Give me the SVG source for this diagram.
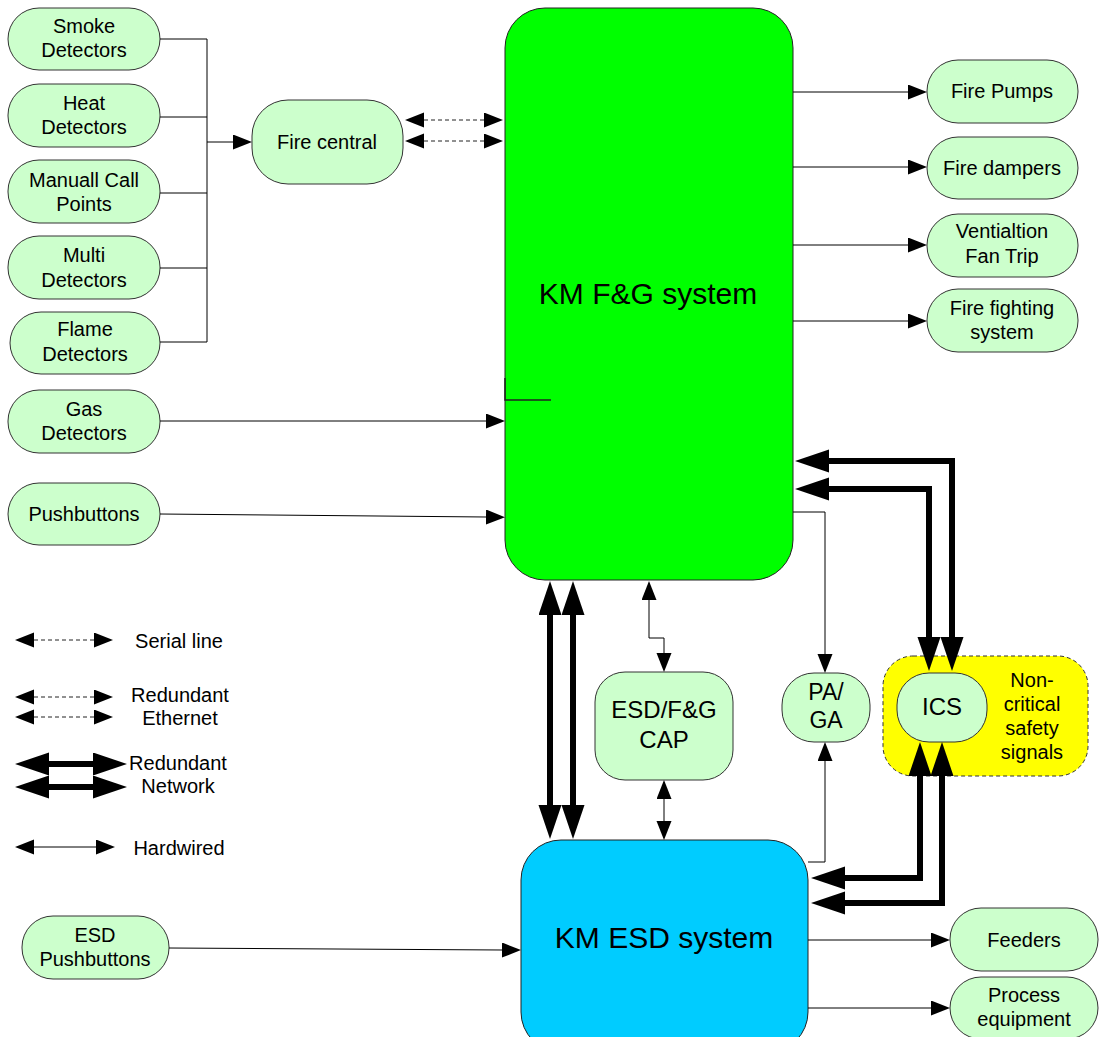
<svg xmlns="http://www.w3.org/2000/svg" width="1099" height="1037" viewBox="0 0 1099 1037">
<style>
.t{font-family:"Liberation Sans",Arial,sans-serif;font-size:20px;text-anchor:middle;fill:#000}
.pill{fill:#ccffcc;stroke:#333;stroke-width:1}
.w{fill:none;stroke:#000;stroke-width:1}
.d{fill:none;stroke:#222;stroke-width:1;stroke-dasharray:4,3}
.n{fill:none;stroke:#000;stroke-width:6;stroke-linejoin:miter}
</style>
<defs>
<marker id="s" markerUnits="userSpaceOnUse" markerWidth="20" markerHeight="16" refX="0" refY="7.5" orient="auto-start-reverse"><path d="M0,0 L19,7.5 L0,15 z" fill="#000"/></marker>
<marker id="b" markerUnits="userSpaceOnUse" markerWidth="35" markerHeight="24" refX="0" refY="11.5" orient="auto-start-reverse"><path d="M0,0 L34,11.5 L0,23 z" fill="#000"/></marker>
</defs>
<rect width="1099" height="1037" fill="#fff"/>

<g id="fg-system"><rect x="505" y="8" width="288" height="572" rx="40" fill="#00ff00" stroke="#222"/><text class="t" x="648" y="304" style="font-size:30px">KM F&amp;G system</text></g>
<g id="esd-system"><rect x="521" y="840" width="287" height="212" rx="40" fill="#00ccff" stroke="#222"/><text class="t" x="664" y="948" style="font-size:30px">KM ESD system</text></g>

<g id="smoke"><rect class="pill" x="8" y="8" width="152" height="62" rx="31"/><text class="t" x="84" y="33">Smoke</text><text class="t" x="84" y="57">Detectors</text></g>
<g id="heat"><rect class="pill" x="8" y="84" width="152" height="63" rx="31"/><text class="t" x="84" y="110">Heat</text><text class="t" x="84" y="134">Detectors</text></g>
<g id="manual"><rect class="pill" x="8" y="160" width="152" height="63" rx="31"/><text class="t" x="84" y="187">Manuall Call</text><text class="t" x="84" y="211">Points</text></g>
<g id="multi"><rect class="pill" x="8" y="236" width="152" height="63" rx="31"/><text class="t" x="84" y="262">Multi</text><text class="t" x="84" y="287">Detectors</text></g>
<g id="flame"><rect class="pill" x="10" y="312" width="150" height="62" rx="31"/><text class="t" x="85" y="336">Flame</text><text class="t" x="85" y="361">Detectors</text></g>
<g id="gas"><rect class="pill" x="8" y="390" width="152" height="63" rx="31"/><text class="t" x="84" y="416">Gas</text><text class="t" x="84" y="440">Detectors</text></g>
<g id="pushbuttons"><rect class="pill" x="8" y="483" width="152" height="62" rx="31"/><text class="t" x="84" y="521">Pushbuttons</text></g>
<g id="fire-central"><rect class="pill" x="252" y="100" width="151" height="84" rx="36"/><text class="t" x="327" y="149">Fire central</text></g>

<g id="fire-pumps"><rect class="pill" x="927" y="60" width="151" height="63" rx="31"/><text class="t" x="1002" y="98">Fire Pumps</text></g>
<g id="fire-dampers"><rect class="pill" x="927" y="137" width="151" height="62" rx="31"/><text class="t" x="1002" y="175">Fire dampers</text></g>
<g id="ventilation"><rect class="pill" x="927" y="214" width="151" height="63" rx="31"/><text class="t" x="1002" y="238">Ventialtion</text><text class="t" x="1002" y="263">Fan Trip</text></g>
<g id="fire-fighting"><rect class="pill" x="927" y="289" width="151" height="63" rx="31"/><text class="t" x="1002" y="315">Fire fighting</text><text class="t" x="1002" y="339">system</text></g>

<g id="non-critical"><rect x="883" y="656" width="205" height="120" rx="30" fill="#ffff00" stroke="#333" stroke-dasharray="4,3"/><text class="t" x="1032" y="687">Non-</text><text class="t" x="1032" y="711">critical</text><text class="t" x="1032" y="735">safety</text><text class="t" x="1032" y="759">signals</text></g>
<g id="ics"><rect class="pill" x="897" y="673" width="90" height="69" rx="32"/><text class="t" x="942" y="715" style="font-size:24px">ICS</text></g>
<g id="pa-ga"><rect class="pill" x="782" y="673" width="88" height="69" rx="32"/><text class="t" x="826" y="700" style="font-size:23px">PA/</text><text class="t" x="826" y="728" style="font-size:23px">GA</text></g>
<g id="cap"><rect class="pill" x="595" y="672" width="138" height="108" rx="30"/><text class="t" x="664" y="718" style="font-size:24px">ESD/F&amp;G</text><text class="t" x="664" y="748" style="font-size:24px">CAP</text></g>

<g id="esd-pushbuttons"><rect class="pill" x="22" y="916" width="147" height="63" rx="31"/><text class="t" x="95" y="942">ESD</text><text class="t" x="95" y="966">Pushbuttons</text></g>
<g id="feeders"><rect class="pill" x="950" y="908" width="148" height="63" rx="31"/><text class="t" x="1024" y="947">Feeders</text></g>
<g id="process"><rect class="pill" x="950" y="977" width="148" height="62" rx="31"/><text class="t" x="1024" y="1002">Process</text><text class="t" x="1024" y="1026">equipment</text></g>

<g id="connectors">
<path class="w" d="M160,39 H207 M160,117 H207 M160,193 H207 M160,268 H207 M160,342 H207 M207,39 V342"/>
<path class="w" d="M207,142 H233" marker-end="url(#s)"/>
<path class="d" d="M424,120 H484" marker-start="url(#s)" marker-end="url(#s)"/>
<path class="d" d="M424,141 H484" marker-start="url(#s)" marker-end="url(#s)"/>
<path class="w" d="M793,92 H908" marker-end="url(#s)"/>
<path class="w" d="M793,167 H908" marker-end="url(#s)"/>
<path class="w" d="M793,245 H908" marker-end="url(#s)"/>
<path class="w" d="M793,321 H908" marker-end="url(#s)"/>
<path class="w" d="M160,421 L486,421" marker-end="url(#s)"/>
<path class="w" d="M160,514 L486,517" marker-end="url(#s)"/>
<path d="M505,378 V400 H551" fill="none" stroke="#222" stroke-width="1.5"/>
<path class="n" d="M829,461 H952 V637" marker-start="url(#b)" marker-end="url(#b)"/>
<path class="n" d="M829,489 H929 V637" marker-start="url(#b)" marker-end="url(#b)"/>
<path class="n" d="M920,776 V878 H845" marker-start="url(#b)" marker-end="url(#b)"/>
<path class="n" d="M942,776 V903 H845" marker-start="url(#b)" marker-end="url(#b)"/>
<path class="n" d="M550,615 V805" marker-start="url(#b)" marker-end="url(#b)"/>
<path class="n" d="M573,615 V805" marker-start="url(#b)" marker-end="url(#b)"/>
<path class="w" d="M649,600 V638 H664 V653" marker-start="url(#s)" marker-end="url(#s)"/>
<path class="w" d="M664,799 V821" marker-start="url(#s)" marker-end="url(#s)"/>
<path class="w" d="M793,512 H825 V654" marker-end="url(#s)"/>
<path class="w" d="M808,862 H825 V761" marker-end="url(#s)"/>
<path class="w" d="M808,940 H931" marker-end="url(#s)"/>
<path class="w" d="M808,1008 H931" marker-end="url(#s)"/>
<path class="w" d="M169,948 L502,950" marker-end="url(#s)"/>
</g>

<g id="legend">
<path class="d" d="M34,640 H94" marker-start="url(#s)" marker-end="url(#s)"/>
<text class="t" x="179" y="648">Serial line</text>
<path class="d" d="M34,697 H94" marker-start="url(#s)" marker-end="url(#s)"/>
<path class="d" d="M34,717 H94" marker-start="url(#s)" marker-end="url(#s)"/>
<text class="t" x="180" y="702">Redundant</text>
<text class="t" x="180" y="725">Ethernet</text>
<path class="n" d="M49,764 H93" marker-start="url(#b)" marker-end="url(#b)"/>
<path class="n" d="M49,787 H93" marker-start="url(#b)" marker-end="url(#b)"/>
<text class="t" x="178" y="770">Redundant</text>
<text class="t" x="178" y="793">Network</text>
<path class="w" d="M34,847 H96" marker-start="url(#s)" marker-end="url(#s)"/>
<text class="t" x="179" y="855">Hardwired</text>
</g>
</svg>
